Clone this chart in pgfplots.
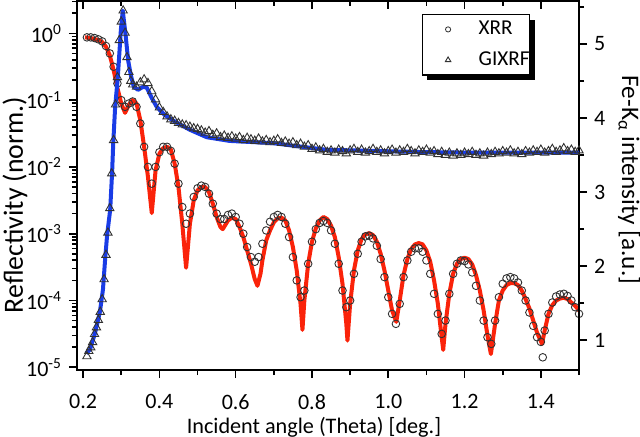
\documentclass[border=0pt]{standalone}
\usepackage{fontspec}
\setmainfont{Carlito}
\usepackage{pgfplots}
\pgfplotsset{compat=1.18}
\usetikzlibrary{shadows}
\definecolor{fitred}{RGB}{250,35,10}
\definecolor{fitblue}{RGB}{25,60,230}
\definecolor{markgray}{RGB}{50,50,50}

\begin{document}
\begin{tikzpicture}
\pgfplotsset{
  every axis/.append style={
    scale only axis, width=251pt, height=184.5pt,
    xmin=0.184, xmax=1.5,
    font=\fontsize{11}{13}\selectfont,
    tick label style={font=\fontsize{11}{13}\selectfont},
    axis line style={line width=1pt},
    major tick length=4pt, minor tick length=2.5pt,
    every tick/.style={black, line width=0.8pt},
    /pgf/number format/assume math mode=true,
  },
}
% reflectivity, left log axis
\begin{axis}[name=ax, ymode=log, ymin=9.1e-6, ymax=3.05,
  tick align=outside, xtick pos=left, ytick pos=left,
  xtick={0.2,0.4,0.6,0.8,1.0,1.2,1.4},
  minor xtick={0.3,0.5,0.7,0.9,1.1,1.3,1.5},
  xticklabel style={/pgf/number format/fixed, /pgf/number format/fixed zerofill,
    /pgf/number format/precision=1, inner sep=1pt, yshift=-7pt},
  ytick={1e-5,1e-4,1e-3,1e-2,1e-1,1},
  yticklabels={10\textsuperscript{-5},10\textsuperscript{-4},10\textsuperscript{-3},10\textsuperscript{-2},10\textsuperscript{-1},10\textsuperscript{0}},
  minor ytick={2e-5,3e-5,4e-5,5e-5,6e-5,7e-5,8e-5,9e-5,
    2e-4,3e-4,4e-4,5e-4,6e-4,7e-4,8e-4,9e-4,
    2e-3,3e-3,4e-3,5e-3,6e-3,7e-3,8e-3,9e-3,
    2e-2,3e-2,4e-2,5e-2,6e-2,7e-2,8e-2,9e-2,
    0.2,0.3,0.4,0.5,0.6,0.7,0.8,0.9,2,3},
  xlabel={Incident angle (Theta) [deg.]},
  every axis x label/.style={at={(axis description cs:0.472,-0.171)}, anchor=base, inner sep=0pt,
    font=\fontsize{11.1}{13}\selectfont},
  ylabel={Reflectivity (norm.)},
  every axis y label/.style={at={(axis description cs:-0.149,0.447)}, rotate=90, anchor=north,
    inner sep=0pt, font=\fontsize{13.9}{15}\selectfont},
]
\addplot[only marks, mark=o, mark size=1.9pt, markgray, mark options={line width=0.45pt}] coordinates {
(0.21,0.871)(0.22,0.871)(0.23,0.851)(0.24,0.813)(0.25,0.759)(0.26,0.646)(0.27,0.501)(0.28,0.316)(0.29,0.178)
(0.30,0.100)(0.31,7.94e-2)(0.32,8.91e-2)(0.33,9.55e-2)(0.34,7.94e-2)(0.35,4.47e-2)(0.36,2.00e-2)(0.37,1.0e-2)
(0.38,5.62e-3)(0.39,1.0e-2)(0.40,1.66e-2)(0.41,2.0e-2)(0.42,2.0e-2)(0.43,1.74e-2)(0.44,1.12e-2)(0.45,5.62e-3)
(0.46,2.51e-3)(0.47,1.41e-3)(0.48,2.00e-3)(0.49,3.55e-3)(0.50,4.79e-3)(0.51,5.25e-3)(0.52,5.01e-3)(0.53,3.98e-3)
(0.54,2.82e-3)(0.55,2.00e-3)(0.56,1.66e-3)(0.57,1.66e-3)(0.58,1.91e-3)(0.59,2.00e-3)(0.60,1.78e-3)(0.61,1.41e-3)
(0.62,1.0e-3)(0.63,6.31e-4)(0.64,4.47e-4)(0.65,3.80e-4)(0.66,4.47e-4)(0.67,7.08e-4)(0.68,1.12e-3)(0.69,1.51e-3)
(0.70,1.78e-3)(0.71,1.91e-3)(0.72,1.78e-3)(0.73,1.41e-3)(0.74,8.91e-4)(0.75,4.47e-4)(0.76,2.00e-4)(0.77,1.12e-4)
(0.78,1.41e-4)(0.79,3.55e-4)(0.80,7.59e-4)(0.81,1.17e-3)(0.82,1.45e-3)(0.83,1.55e-3)(0.84,1.45e-3)(0.85,1.12e-3)
(0.86,7.08e-4)(0.87,3.55e-4)(0.88,1.41e-4)(0.89,7.94e-5)(0.90,1.0e-4)(0.91,2.51e-4)(0.92,5.01e-4)(0.93,7.59e-4)
(0.94,9.12e-4)(0.95,9.33e-4)(0.96,8.51e-4)(0.97,6.61e-4)(0.98,4.17e-4)(0.99,2.24e-4)(1.00,1.12e-4)(1.01,6.31e-5)
(1.02,4.47e-5)(1.03,8.91e-5)(1.04,2.24e-4)(1.05,3.98e-4)(1.06,5.37e-4)(1.07,6.03e-4)(1.08,6.03e-4)(1.09,5.37e-4)
(1.10,3.98e-4)(1.11,2.51e-4)(1.12,1.26e-4)(1.13,6.31e-5)(1.14,3.16e-5)(1.15,5.01e-5)(1.16,1.26e-4)(1.17,2.51e-4)
(1.18,3.55e-4)(1.19,3.98e-4)(1.20,3.89e-4)(1.21,3.47e-4)(1.22,2.63e-4)(1.23,1.66e-4)(1.24,1.0e-4)(1.25,5.01e-5)
(1.26,2.82e-5)(1.27,2.24e-5)(1.28,5.01e-5)(1.29,1.12e-4)(1.30,1.78e-4)(1.31,2.14e-4)(1.32,2.24e-4)(1.33,2.14e-4)
(1.34,1.86e-4)(1.35,1.41e-4)(1.36,1.0e-4)(1.37,6.61e-5)(1.38,4.17e-5)(1.39,2.82e-5)(1.40,2.40e-5)(1.405,1.41e-5)
(1.41,3.55e-5)(1.42,6.31e-5)(1.43,9.33e-5)(1.44,1.15e-4)(1.45,1.23e-4)(1.46,1.26e-4)(1.47,1.17e-4)(1.48,1.0e-4)
(1.49,7.94e-5)(1.50,6.31e-5)
};
\addplot[fitred, line width=2pt, line join=round] coordinates {
(0.205,0.871)(0.22,0.851)(0.24,0.794)(0.25,0.741)(0.26,0.631)(0.27,0.468)(0.28,0.282)(0.29,0.151)
(0.30,8.91e-2)(0.31,6.46e-2)(0.32,8.51e-2)(0.33,1.0e-1)(0.34,8.91e-2)(0.35,5.01e-2)(0.36,2.00e-2)(0.37,7.08e-3)
(0.38,2.04e-3)(0.39,8.91e-3)(0.40,1.58e-2)(0.41,1.91e-2)(0.42,2.00e-2)(0.43,1.82e-2)(0.44,1.12e-2)(0.45,5.01e-3)
(0.46,1.41e-3)(0.47,3.09e-4)(0.48,1.41e-3)(0.49,3.16e-3)(0.50,4.47e-3)(0.51,5.01e-3)(0.52,5.01e-3)(0.53,4.17e-3)
(0.54,2.82e-3)(0.55,1.78e-3)(0.56,1.26e-3)(0.566,1.17e-3)(0.58,1.58e-3)(0.59,1.74e-3)(0.60,1.66e-3)(0.61,1.26e-3)
(0.62,8.91e-4)(0.63,5.62e-4)(0.64,3.55e-4)(0.65,2.09e-4)(0.657,1.66e-4)(0.665,2.51e-4)(0.67,3.98e-4)(0.68,7.94e-4)
(0.69,1.12e-3)(0.70,1.48e-3)(0.71,1.70e-3)(0.72,1.74e-3)(0.73,1.58e-3)(0.74,1.12e-3)(0.75,6.31e-4)(0.76,2.82e-4)
(0.77,8.91e-5)(0.775,3.63e-5)(0.78,1.0e-4)(0.79,3.55e-4)(0.80,7.59e-4)(0.81,1.20e-3)(0.82,1.58e-3)(0.83,1.78e-3)
(0.84,1.66e-3)(0.85,1.32e-3)(0.86,8.91e-4)(0.87,4.47e-4)(0.88,1.78e-4)(0.89,4.47e-5)(0.893,2.51e-5)(0.90,8.91e-5)
(0.91,2.82e-4)(0.92,5.62e-4)(0.93,8.32e-4)(0.94,9.77e-4)(0.95,1.02e-3)(0.96,9.55e-4)(0.97,7.59e-4)(0.98,5.01e-4)
(0.99,2.82e-4)(1.00,1.41e-4)(1.01,7.08e-5)(1.021,4.79e-5)(1.03,1.0e-4)(1.04,2.40e-4)(1.05,4.17e-4)(1.06,5.89e-4)
(1.07,6.92e-4)(1.08,7.24e-4)(1.09,6.92e-4)(1.10,5.62e-4)(1.11,3.80e-4)(1.12,2.00e-4)(1.13,8.91e-5)(1.14,2.82e-5)
(1.144,1.82e-5)(1.15,4.47e-5)(1.16,1.26e-4)(1.17,2.51e-4)(1.18,3.55e-4)(1.19,4.17e-4)(1.20,4.37e-4)(1.21,4.17e-4)
(1.22,3.47e-4)(1.23,2.40e-4)(1.24,1.41e-4)(1.25,7.08e-5)(1.26,3.02e-5)(1.269,1.58e-5)(1.28,4.47e-5)(1.29,1.0e-4)
(1.30,1.41e-4)(1.31,1.70e-4)(1.32,1.82e-4)(1.33,1.82e-4)(1.34,1.70e-4)(1.35,1.41e-4)(1.36,1.05e-4)(1.37,7.59e-5)
(1.38,5.01e-5)(1.39,3.31e-5)(1.403,2.24e-5)(1.41,3.55e-5)(1.42,6.31e-5)(1.43,8.51e-5)(1.44,1.0e-4)(1.45,1.07e-4)
(1.46,1.10e-4)(1.47,1.05e-4)(1.48,9.33e-5)(1.49,8.32e-5)(1.50,7.08e-5)
};
\end{axis}

% fluorescence, right linear axis
\begin{axis}[axis y line*=right, axis x line=none, ymin=0.595, ymax=5.58,
  tick align=outside,
  ytick={1,2,3,4,5}, minor ytick={1.5,2.5,3.5,4.5,5.5},
  ylabel={Fe-K\textsubscript{α} intensity [a.u.]},
  every axis y label/.style={at={(axis description cs:1.123,0.515)}, rotate=-90, anchor=north,
    inner sep=0pt, font=\fontsize{12.6}{15}\selectfont},
  legend style={at={(axis description cs:0.687,0.965)}, anchor=north west,
    draw=black, line width=0.6pt, fill=white,
    drop shadow={shadow xshift=2.5pt, shadow yshift=-2.5pt, opacity=1, fill=black},
    inner xsep=0pt, inner ysep=3.3pt, row sep=7pt,
    nodes={inner sep=0pt},
    font=\fontsize{10.6}{12}\selectfont},
  legend cell align=left,
  legend image code/.code={\path (0pt,0pt) (27.5pt,0pt); \draw[#1] plot coordinates {(12.5pt,0pt)};},
]
\addlegendimage{only marks, mark=o, mark size=1.3pt, markgray, mark options={line width=0.4pt}}
\addplot[only marks, mark=triangle, mark size=2.4pt, markgray, mark options={line width=0.45pt},
  legend image post style={mark size=1.6pt}] coordinates {
(0.210,0.78)(0.215,0.85)(0.220,0.90)(0.225,0.97)(0.230,1.08)(0.235,1.17)(0.240,1.27)(0.245,1.38)(0.250,1.55)
(0.255,1.82)(0.260,2.15)(0.265,2.45)(0.270,2.78)(0.275,3.25)(0.280,3.70)(0.285,4.18)(0.290,4.55)(0.295,5.05)
(0.300,5.30)(0.305,5.45)(0.310,5.15)(0.315,4.82)(0.320,4.62)(0.325,4.50)(0.330,4.45)(0.34,4.42)(0.35,4.48)
(0.36,4.52)(0.37,4.47)(0.38,4.36)(0.39,4.25)(0.40,4.14)(0.41,4.08)(0.42,4.02)(0.43,3.98)(0.44,3.96)(0.45,3.93)
(0.46,3.91)(0.47,3.90)(0.48,3.88)(0.49,3.86)(0.50,3.85)(0.51,3.83)(0.52,3.80)(0.53,3.82)(0.54,3.77)(0.55,3.79)
(0.56,3.74)(0.57,3.76)(0.58,3.73)(0.59,3.75)(0.60,3.72)(0.61,3.74)(0.62,3.70)(0.63,3.73)(0.64,3.71)(0.65,3.69)
(0.66,3.72)(0.67,3.68)(0.68,3.70)(0.69,3.67)(0.70,3.69)(0.71,3.71)(0.72,3.66)(0.73,3.68)(0.74,3.65)(0.75,3.67)
(0.76,3.63)(0.77,3.65)(0.78,3.61)(0.79,3.63)(0.80,3.58)(0.81,3.60)(0.82,3.56)(0.83,3.58)(0.84,3.54)(0.85,3.56)
(0.86,3.53)(0.87,3.57)(0.88,3.55)(0.89,3.52)(0.90,3.56)(0.91,3.58)(0.92,3.54)(0.93,3.57)(0.94,3.53)(0.95,3.55)
(0.96,3.58)(0.97,3.54)(0.98,3.56)(0.99,3.52)(1.00,3.55)(1.01,3.57)(1.02,3.53)(1.03,3.56)(1.04,3.54)(1.05,3.58)
(1.06,3.55)(1.07,3.52)(1.08,3.56)(1.09,3.54)(1.10,3.57)(1.11,3.53)(1.12,3.55)(1.13,3.51)(1.14,3.54)(1.15,3.50)
(1.16,3.53)(1.17,3.49)(1.18,3.52)(1.19,3.50)(1.20,3.53)(1.21,3.51)(1.22,3.54)(1.23,3.50)(1.24,3.52)(1.25,3.49)
(1.26,3.53)(1.27,3.51)(1.28,3.54)(1.29,3.52)(1.30,3.55)(1.31,3.53)(1.32,3.56)(1.33,3.52)(1.34,3.54)(1.35,3.51)
(1.36,3.55)(1.37,3.53)(1.38,3.56)(1.39,3.54)(1.40,3.57)(1.41,3.53)(1.42,3.55)(1.43,3.58)(1.44,3.54)(1.45,3.56)
(1.46,3.59)(1.47,3.55)(1.48,3.57)(1.49,3.54)(1.50,3.56)
};
\addplot[fitblue, line width=2pt, line join=round, forget plot] coordinates {
(0.208,0.82)(0.218,0.87)(0.231,1.09)(0.244,1.38)(0.252,1.68)(0.258,2.11)(0.263,2.42)(0.271,2.76)
(0.276,3.26)(0.279,3.66)(0.284,4.15)(0.291,4.55)(0.299,5.19)(0.304,5.45)(0.312,5.09)(0.318,4.78)
(0.325,4.58)(0.333,4.42)(0.344,4.38)(0.357,4.42)(0.367,4.41)(0.380,4.27)(0.393,4.15)(0.414,4.04)
(0.441,3.95)(0.480,3.84)(0.524,3.74)(0.584,3.69)(0.697,3.66)(0.838,3.57)(1.081,3.54)(1.238,3.53)(1.500,3.53)
};
\legend{XRR,GIXRF}
\end{axis}

% inward ticks along the top edge
\begin{axis}[hide y axis, axis x line*=top, ymin=0, ymax=1,
  tick align=inside,
  xtick={0.2,0.4,0.6,0.8,1.0,1.2,1.4},
  minor xtick={0.3,0.5,0.7,0.9,1.1,1.3,1.5},
  xticklabels={},
]
\end{axis}

\pgfresetboundingbox
\path[use as bounding box] ([shift={(-38.5pt,-33pt)}]ax.south west) rectangle ([shift={(281.5pt,185pt)}]ax.south west);
\end{tikzpicture}
\end{document}
